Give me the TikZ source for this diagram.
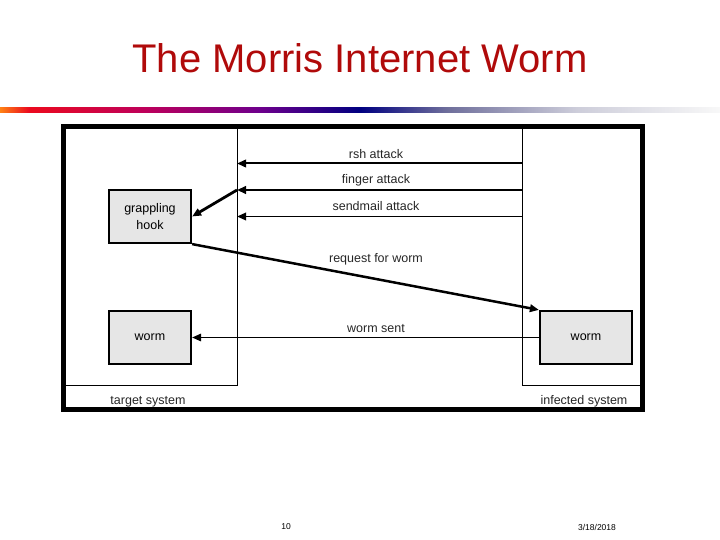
\documentclass[tikz,border=0pt]{standalone}
\usepackage{fontspec}
\setmainfont{Liberation Sans}
\usetikzlibrary{arrows.meta}
\definecolor{titlered}{RGB}{176,10,10}
\definecolor{boxgray}{RGB}{230,230,230}
\definecolor{cA}{RGB}{255,130,20}
\definecolor{cB}{RGB}{235,10,30}
\definecolor{cC}{RGB}{190,0,90}
\definecolor{cD}{RGB}{110,0,140}
\definecolor{cE}{RGB}{0,0,128}
\definecolor{cF}{RGB}{110,110,155}
\definecolor{cG}{RGB}{205,205,218}
\definecolor{cH}{RGB}{248,248,248}
\pgfdeclarehorizontalshading{rulebar}{100bp}{color(0bp)=(cA); color(25bp)=(cA); color(27bp)=(cB); color(35bp)=(cC); color(43bp)=(cD); color(50bp)=(cE); color(56bp)=(cF); color(65bp)=(cG); color(75bp)=(cH); color(100bp)=(cH)}
\begin{document}
\begin{tikzpicture}[x=1pt,y=-1pt,
  box/.style={draw, line width=2.2pt, fill=boxgray, minimum width=82pt, minimum height=53pt, align=center, font=\fontsize{12.5}{16.5}\selectfont, inner sep=0pt},
  lbl/.style={font=\fontsize{12.5}{15}\selectfont, inner sep=0pt, text=black!85},
  sysline/.style={line width=0.8pt},
  tip/.style={-{Triangle[length=9pt,width=7.5pt]}},
  foot/.style={font=\fontsize{8.5}{10}\selectfont, inner sep=0pt}]
\useasboundingbox (0,0) rectangle (720,540);
\node[font=\fontsize{40}{44}\selectfont, text=titlered, anchor=base, inner sep=0pt] (title) at (360,73) {The Morris Internet Worm};
\shade[shading=rulebar] (0,107.5) rectangle (720,113);
% frame
\draw[line width=5pt] (63,126.5) rectangle (642.5,409);
% system boxes
\coordinate (tTop) at (237,129);
\coordinate (tCorner) at (237,385);
\coordinate (tLeft) at (65,385);
\coordinate (iTop) at (522,129);
\coordinate (iCorner) at (522,385);
\coordinate (iRight) at (640,385);
\draw[sysline] (tTop) -- (tCorner) -- (tLeft);
\draw[sysline] (iTop) -- (iCorner) -- (iRight);
\node[lbl] (tsys) at (148,401.5) {target system};
\node[lbl] (isys) at (584,401.5) {infected system};
% boxes
\node[box] (hook) at (150,216.5) {grappling\\hook};
\node[box] (wormT) at (150,337.5) {worm};
\node[box, minimum width=92pt] (wormI) at (586,337.5) {worm};
% attacks
\coordinate (rshS) at (522,163.5);
\coordinate (rshE) at (237,163.5);
\coordinate (finS) at (522,190);
\coordinate (finE) at (237,190);
\coordinate (senS) at (522,216.5);
\coordinate (senE) at (237,216.5);
\draw[tip, line width=2pt] (rshS) -- (rshE);
\draw[tip, line width=2.8pt] (finS) -- (finE);
\draw[tip, line width=1.8pt] (senS) -- (senE);
\draw[tip, line width=2.8pt] (finE) -- (hook.east);
\node[lbl] (rshL) at (376,154.5) {rsh attack};
\node[lbl] (finL) at (376,180.5) {finger attack};
\node[lbl] (senL) at (376,206.5) {sendmail attack};
% request / sent
\draw[tip, line width=2.5pt] (hook.south east) -- (wormI.north west);
\node[lbl] (reqL) at (376,259.5) {request for worm};
\draw[tip, line width=1.5pt] (wormI.west) -- (wormT.east);
\node[lbl] (sentL) at (376,328.5) {worm sent};
% footer
\node[foot] (page) at (286,527) {10};
\node[foot] (date) at (597,527) {3/18/2018};
\end{tikzpicture}
\end{document}
